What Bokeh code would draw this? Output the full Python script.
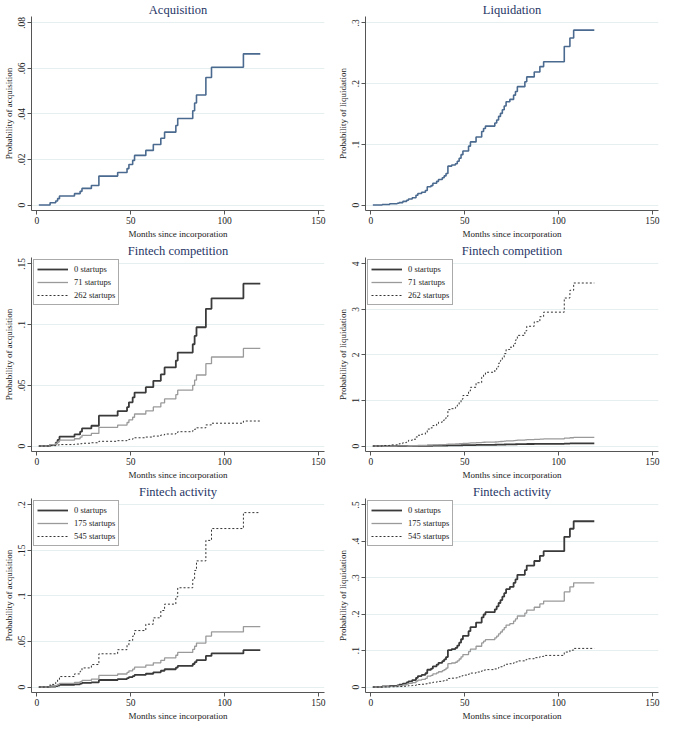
from bokeh.plotting import figure
from bokeh.layouts import gridplot
from bokeh.models import FixedTicker, CustomJSTickFormatter, Range1d, Legend
from bokeh.embed import file_html
from bokeh.resources import INLINE

# ---------------- data ----------------
acq_t = [1, 7, 10, 11, 12, 20, 23, 24, 29, 33, 43, 48, 49, 51, 52, 58, 62, 66,
         68, 74, 75, 83, 84, 85, 90, 93, 110, 119]
acq_all = [0, 0.001, 0.0018, 0.0028, 0.004, 0.005, 0.006, 0.0073, 0.0086, 0.0127,
           0.0143, 0.016, 0.0178, 0.0196, 0.0218, 0.024, 0.0266, 0.0293, 0.032,
           0.0349, 0.038, 0.0414, 0.0448, 0.0483, 0.056, 0.0605, 0.0664, 0.0664]

comp_acq_0 = [0, 0.001, 0.0027, 0.005, 0.0077, 0.0096, 0.0118, 0.0145, 0.0167, 0.025,
              0.0288, 0.032, 0.036, 0.040, 0.044, 0.0485, 0.0537, 0.059, 0.0647,
              0.0704, 0.077, 0.0838, 0.0907, 0.0978, 0.113, 0.1216, 0.1337, 0.1337]
comp_acq_71 = [0, 0.0012, 0.0022, 0.0034, 0.0048, 0.006, 0.0073, 0.0088, 0.0104, 0.0154,
               0.0173, 0.0194, 0.0216, 0.0237, 0.0264, 0.029, 0.0322, 0.0355, 0.0388,
               0.0423, 0.046, 0.050, 0.0543, 0.0585, 0.0678, 0.0733, 0.0804, 0.0804]
comp_acq_262 = [0, 0.0003, 0.0006, 0.0009, 0.0012, 0.0016, 0.0019, 0.0023, 0.0027, 0.0039,
                0.0044, 0.005, 0.0055, 0.0061, 0.0068, 0.0074, 0.0082, 0.0091, 0.0099,
                0.0108, 0.0118, 0.0128, 0.0139, 0.015, 0.0174, 0.0188, 0.0206, 0.0206]

act_acq_0 = [0, 0.0006, 0.0011, 0.0017, 0.0024, 0.003, 0.0037, 0.0045, 0.0052, 0.0077,
             0.0087, 0.0098, 0.0109, 0.012, 0.0133, 0.0146, 0.0162, 0.0179, 0.0195,
             0.0213, 0.0232, 0.0253, 0.0273, 0.0295, 0.0342, 0.0369, 0.0405, 0.0405]
act_acq_175 = [0, 0.001, 0.0018, 0.0028, 0.004, 0.005, 0.006, 0.0073, 0.0086, 0.0127,
               0.0143, 0.016, 0.0178, 0.0196, 0.0218, 0.024, 0.0266, 0.0293, 0.032,
               0.0349, 0.038, 0.0414, 0.0448, 0.0483, 0.056, 0.0605, 0.0664, 0.0664]
act_acq_545 = [0, 0.0029, 0.0052, 0.008, 0.0115, 0.0144, 0.0173, 0.021, 0.0247, 0.0365,
               0.041, 0.046, 0.051, 0.056, 0.062, 0.069, 0.076, 0.084, 0.091,
               0.099, 0.109, 0.118, 0.128, 0.1385, 0.161, 0.174, 0.1915, 0.1915]

liq_t = [1, 6, 10, 14, 15, 17, 19, 20, 22, 24, 25, 27, 29, 30, 32, 33, 35, 36, 38, 39,
         40, 41, 43, 45, 46, 47, 48, 49, 52, 53, 56, 59, 60, 61, 66, 67, 68, 69, 70,
         71, 72, 74, 76, 77, 78, 82, 83, 87, 90, 92, 103, 106, 108, 119]
liq_all = [0, 0.001, 0.002, 0.003, 0.004, 0.006, 0.008, 0.010, 0.012, 0.016, 0.019,
           0.021, 0.024, 0.030, 0.032, 0.036, 0.039, 0.042, 0.045, 0.048, 0.052, 0.064,
           0.066, 0.068, 0.072, 0.077, 0.083, 0.089, 0.097, 0.104, 0.112, 0.121, 0.126,
           0.130, 0.135, 0.140, 0.146, 0.151, 0.157, 0.163, 0.170, 0.174, 0.181, 0.187,
           0.195, 0.203, 0.211, 0.219, 0.228, 0.236, 0.261, 0.275, 0.288, 0.288]

comp_liq_0 = [0, 0.0002, 0.0004, 0.0006, 0.0008, 0.0013, 0.0017, 0.0021, 0.0025, 0.0034,
              0.004, 0.0044, 0.005, 0.0063, 0.0067, 0.0076, 0.0082, 0.0088, 0.0095,
              0.0101, 0.0109, 0.0134, 0.0139, 0.0143, 0.0151, 0.0162, 0.0174, 0.0187,
              0.0204, 0.0218, 0.0235, 0.0254, 0.0265, 0.0273, 0.0284, 0.0294, 0.0307,
              0.0317, 0.033, 0.0342, 0.0357, 0.0365, 0.038, 0.0393, 0.041, 0.0426,
              0.0443, 0.046, 0.0479, 0.0496, 0.0548, 0.0578, 0.0605, 0.0605]
comp_liq_71 = [0, 0.0007, 0.0013, 0.002, 0.0026, 0.004, 0.0053, 0.0066, 0.0079, 0.0106,
               0.0125, 0.0139, 0.0158, 0.0198, 0.0211, 0.0238, 0.0257, 0.0277, 0.0297,
               0.0317, 0.0343, 0.0422, 0.0436, 0.0449, 0.0475, 0.0508, 0.0548, 0.0587,
               0.064, 0.0686, 0.0739, 0.0799, 0.0832, 0.0858, 0.0891, 0.0924, 0.0964,
               0.0997, 0.1036, 0.1076, 0.1122, 0.1148, 0.1195, 0.1234, 0.1287, 0.134,
               0.1393, 0.1445, 0.1505, 0.1558, 0.1723, 0.1815, 0.19, 0.19]
comp_liq_262 = [0, 0.012, 0.025, 0.037, 0.05, 0.075, 0.10, 0.125, 0.15, 0.20, 0.237,
                0.26, 0.30, 0.373, 0.40, 0.45, 0.485, 0.523, 0.56, 0.60, 0.65, 0.80,
                0.82, 0.85, 0.90, 0.96, 1.03, 1.11, 1.21, 1.29, 1.39, 1.51, 1.57, 1.62,
                1.68, 1.74, 1.82, 1.88, 1.95, 2.03, 2.12, 2.17, 2.25, 2.33, 2.43, 2.53,
                2.63, 2.73, 2.84, 2.94, 3.25, 3.42, 3.58, 3.58]

act_liq_0 = [0, 0.0016, 0.0032, 0.0047, 0.0063, 0.0095, 0.0126, 0.0158, 0.019, 0.0253,
             0.03, 0.0332, 0.0379, 0.0474, 0.0506, 0.0569, 0.0616, 0.0664, 0.0711,
             0.0758, 0.0822, 0.1011, 0.1043, 0.1074, 0.1138, 0.1217, 0.1311, 0.1406,
             0.1533, 0.1643, 0.177, 0.1912, 0.1991, 0.2054, 0.2133, 0.2212, 0.2307,
             0.2386, 0.2481, 0.2575, 0.2686, 0.2749, 0.286, 0.2955, 0.3081, 0.3207,
             0.3334, 0.346, 0.3602, 0.3729, 0.4124, 0.4345, 0.455, 0.455]
act_liq_175 = [0, 0.001, 0.002, 0.003, 0.004, 0.006, 0.008, 0.010, 0.012, 0.016, 0.019,
               0.021, 0.024, 0.030, 0.032, 0.036, 0.039, 0.042, 0.045, 0.048, 0.052,
               0.064, 0.066, 0.068, 0.072, 0.077, 0.083, 0.089, 0.097, 0.104, 0.112,
               0.121, 0.126, 0.130, 0.135, 0.140, 0.146, 0.151, 0.157, 0.163, 0.170,
               0.174, 0.181, 0.187, 0.195, 0.203, 0.211, 0.219, 0.228, 0.236, 0.261,
               0.275, 0.286, 0.286]
act_liq_545 = [0, 0.0004, 0.0007, 0.0011, 0.0015, 0.0022, 0.0029, 0.0037, 0.0044, 0.0059,
               0.007, 0.0077, 0.0088, 0.011, 0.0118, 0.0132, 0.0144, 0.0155, 0.0166,
               0.0177, 0.0191, 0.0236, 0.0243, 0.025, 0.0265, 0.0283, 0.0305, 0.0328,
               0.0357, 0.0383, 0.0412, 0.0445, 0.0464, 0.0478, 0.0497, 0.0515, 0.0537,
               0.0556, 0.0578, 0.0600, 0.0626, 0.064, 0.0666, 0.0688, 0.0718, 0.0747,
               0.0776, 0.0806, 0.0839, 0.0868, 0.096, 0.1012, 0.106, 0.106]

x_ticks = [0, 50, 100, 150]
titles = ["Acquisition", "Liquidation", "Fintech competition", "Fintech competition",
          "Fintech activity", "Fintech activity"]
comp_labels = ["0 startups", "71 startups", "262 startups"]
act_labels = ["0 startups", "175 startups", "545 startups"]
acq_ticks = [0, 0.02, 0.04, 0.06, 0.08]
liq_ticks = [0, 0.1, 0.2, 0.3]
comp_acq_ticks = [0, 0.05, 0.1, 0.15]
comp_liq_ticks = [0, 1, 2, 3, 4]
act_acq_ticks = [0, 0.05, 0.1, 0.15, 0.2]
act_liq_ticks = [0, 0.1, 0.2, 0.3, 0.4, 0.5]

# ---------------- styling ----------------
FONT = "Liberation Serif"
W, H = 334, 241
fmt = CustomJSTickFormatter(code="""
var s = String(parseFloat(tick.toFixed(4)));
return s.replace(/^0\\./, '.');
""")


def make_fig(title, ylabel, yticks):
    ymax = yticks[-1]
    p = figure(width=W, height=H, output_backend="svg", toolbar_location=None,
               x_range=Range1d(-2.9, 153.2),
               y_range=Range1d(-0.03 * ymax, 1.035 * ymax),
               min_border_left=22, min_border_right=10, min_border_top=0,
               min_border_bottom=2)
    p.title.text = title
    p.title.text_font = FONT
    p.title.text_font_size = "12.5px"
    p.title.text_font_style = "normal"
    p.title.text_color = "#1f3566"
    p.title.align = "center"
    p.title.standoff = 0
    p.title.offset = 0
    p.outline_line_color = None
    p.background_fill_color = "white"
    p.border_fill_color = "white"
    p.xgrid.visible = False
    p.ygrid.grid_line_color = "#e6eff0"
    p.ygrid.grid_line_width = 1
    p.xaxis.ticker = FixedTicker(ticks=x_ticks)
    p.yaxis.ticker = FixedTicker(ticks=yticks)
    p.xaxis.formatter = fmt
    p.yaxis.formatter = fmt
    p.yaxis.major_label_orientation = "vertical"
    for ax in (p.xaxis, p.yaxis):
        ax.axis_line_color = "#555555"
        ax.major_tick_line_color = "#555555"
        ax.minor_tick_line_color = None
        ax.major_tick_in = 0
        ax.major_tick_out = 4
        ax.major_label_text_font = FONT
        ax.major_label_text_font_size = "9.5px"
        ax.major_label_text_color = "#222222"
        ax.axis_label_text_font = FONT
        ax.axis_label_text_font_size = "9px"
        ax.axis_label_text_font_style = "normal"
        ax.axis_label_text_color = "#222222"
        ax.major_label_standoff = 2
        ax.axis_label_standoff = 2
    p.xaxis.axis_label = "Months since incorporation"
    p.yaxis.axis_label = ylabel
    return p


def add_single(p, t, y):
    p.step(t, y, mode="after", line_color="#4b6a8f", line_width=1.6)


def add_three(p, t, ys, labels):
    r1 = p.step(t, ys[0], mode="after", line_color="#3a3a3a", line_width=1.8)
    r2 = p.step(t, ys[1], mode="after", line_color="#9a9a9a", line_width=1.3)
    r3 = p.step(t, ys[2], mode="after", line_color="#333333", line_width=1.0,
                line_dash="2 2")
    leg = Legend(items=[(labels[0], [r1]), (labels[1], [r2]), (labels[2], [r3])],
                 location="top_left")
    leg.label_text_font = FONT
    leg.label_text_font_size = "8.5px"
    leg.label_text_color = "#222222"
    leg.glyph_width = 31
    leg.glyph_height = 12
    leg.label_height = 12
    leg.spacing = 1
    leg.padding = 3
    leg.margin = 2
    leg.label_standoff = 6
    leg.border_line_color = "#555555"
    leg.border_line_width = 1
    leg.background_fill_alpha = 1
    p.add_layout(leg, "center")


p1 = make_fig(titles[0], "Probability of acquisition", acq_ticks)
add_single(p1, acq_t, acq_all)
p2 = make_fig(titles[1], "Probability of liquidation", liq_ticks)
add_single(p2, liq_t, liq_all)
p3 = make_fig(titles[2], "Probability of acquisition", comp_acq_ticks)
add_three(p3, acq_t, [comp_acq_0, comp_acq_71, comp_acq_262], comp_labels)
p4 = make_fig(titles[3], "Probability of liquidation", comp_liq_ticks)
add_three(p4, liq_t, [comp_liq_0, comp_liq_71, comp_liq_262], comp_labels)
p5 = make_fig(titles[4], "Probability of acquisition", act_acq_ticks)
add_three(p5, acq_t, [act_acq_0, act_acq_175, act_acq_545], act_labels)
p6 = make_fig(titles[5], "Probability of liquidation", act_liq_ticks)
add_three(p6, liq_t, [act_liq_0, act_liq_175, act_liq_545], act_labels)

grid = gridplot([[p1, p2], [p3, p4], [p5, p6]], toolbar_location=None)

open("out.html", "w").write(file_html(grid, INLINE))
